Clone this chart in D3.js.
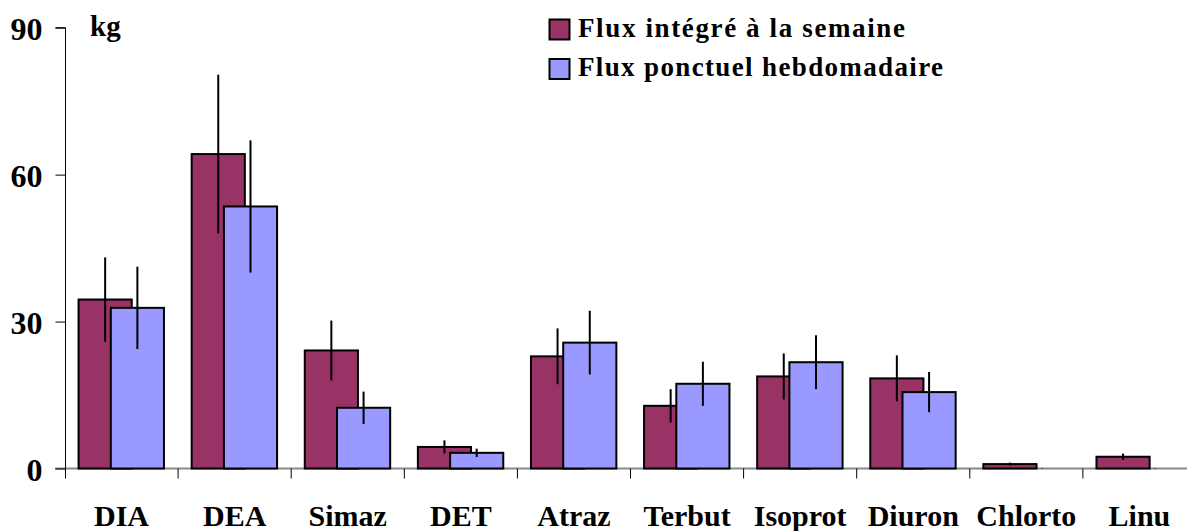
<!DOCTYPE html>
<html>
<head>
<meta charset="utf-8">
<script src="https://cdn.jsdelivr.net/npm/d3@7"></script>
<style>
  html, body { margin: 0; padding: 0; background: #fff; }
  svg { display: block; font-family: "Liberation Serif", "Times New Roman", serif; font-weight: bold; }
</style>
</head>
<body>
<svg id="chart" width="1187" height="531"></svg>
<script>
// Pesticide loads (kg) per compound: weekly integrated flux vs weekly spot flux
const categories = ["DIA", "DEA", "Simaz", "DET", "Atraz", "Terbut", "Isoprot", "Diuron", "Chlorto", "Linu"];
const integre     = [34.5, 64.2, 24.1, 4.4, 22.9, 12.8, 18.8, 18.4, 0.9, 2.4];
const integreErr  = [8.6, 16.2, 6.1, 1.35, 5.7, 3.4, 4.7, 4.7, 0.3, 0.65];
const ponctuel    = [32.8, 53.5, 12.4, 3.2, 25.7, 17.3, 21.7, 15.6, 0, 0];
const ponctuelErr = [8.4, 13.5, 3.3, 0.85, 6.5, 4.5, 5.5, 4.1, 0.1, 0.1];
const yTicks = [0, 30, 60, 90];
const seriesNames = ["Flux intégré à la semaine", "Flux ponctuel hebdomadaire"];
const seriesColors = ["#993366", "#9999FF"];

const svg = d3.select("#chart");

const x = d3.scaleBand().domain(categories).range([65, 1196]).padding(0);
const y = d3.scaleLinear().domain([0, 90]).range([468.5, 27.7]);
const bw = x.bandwidth();

// Bar geometry within each band (bars overlap, Excel style)
const series = [
  { values: integre,  errs: integreErr,  color: seriesColors[0], off: 0.12 * bw,  w: 0.47 * bw },
  { values: ponctuel, errs: ponctuelErr, color: seriesColors[1], off: 0.405 * bw, w: 0.47 * bw }
];

// X axis baseline (grey)
svg.append("line")
  .attr("x1", 55).attr("x2", 1187)
  .attr("y1", y(0)).attr("y2", y(0))
  .attr("stroke", "#888").attr("stroke-width", 2);

// Category separators below the axis
const bounds = categories.map(c => x(c)).concat([x(categories[categories.length - 1]) + bw]);
svg.append("g").selectAll("line").data(bounds.slice(1, 10)).join("line")
  .attr("x1", d => d).attr("x2", d => d)
  .attr("y1", y(0)).attr("y2", y(0) + 10)
  .attr("stroke", "#000").attr("stroke-width", 1);

// Y axis
const yAxis = svg.append("g").attr("transform", "translate(65.5,0)")
  .call(d3.axisLeft(y).tickValues(yTicks).tickSize(10).tickPadding(13));
yAxis.select(".domain").attr("d", `M-10,${y(90)}H0V${y(0) + 10}`).attr("stroke", "#000");
yAxis.selectAll(".tick line").attr("stroke", "#000");
yAxis.selectAll(".tick text")
  .attr("font-family", "Liberation Serif, serif")
  .attr("font-weight", "bold")
  .attr("font-size", 32)
  .attr("fill", "#000")
  .attr("dy", "0.36em");

// Bars then error bars for each series
series.forEach(s => {
  svg.append("g").selectAll("rect").data(categories).join("rect")
    .attr("x", c => x(c) + s.off)
    .attr("y", (c, i) => y(s.values[i]))
    .attr("width", s.w)
    .attr("height", (c, i) => y(0) - y(s.values[i]))
    .attr("fill", s.color)
    .attr("stroke", "#000").attr("stroke-width", 2);
});
series.forEach(s => {
  svg.append("g").selectAll("line").data(categories).join("line")
    .attr("x1", c => x(c) + s.off + s.w / 2)
    .attr("x2", c => x(c) + s.off + s.w / 2)
    .attr("y1", (c, i) => y(s.values[i] + s.errs[i]))
    .attr("y2", (c, i) => y(Math.max(0, s.values[i] - s.errs[i])))
    .attr("stroke", "#000").attr("stroke-width", 2);
});

// Category labels
svg.append("g").selectAll("text").data(categories).join("text")
  .attr("x", c => x(c) + bw / 2)
  .attr("y", 526)
  .attr("text-anchor", "middle")
  .attr("font-size", 30)
  .text(c => c);

// Unit label
svg.append("text").attr("x", 90).attr("y", 36).attr("font-size", 29).text("kg");

// Legend
const legendLengths = [327, 365];
const legend = svg.append("g");
seriesNames.forEach((name, i) => {
  const ly = 19.5 + i * 39.5;
  legend.append("rect")
    .attr("x", 549.5).attr("y", ly).attr("width", 20).attr("height", 20)
    .attr("fill", seriesColors[i]).attr("stroke", "#000").attr("stroke-width", 2);
  legend.append("text")
    .attr("x", 578).attr("y", ly + 17)
    .attr("font-size", 27)
    .attr("textLength", legendLengths[i])
    .attr("lengthAdjust", "spacing")
    .text(name);
});
</script>
</body>
</html>
